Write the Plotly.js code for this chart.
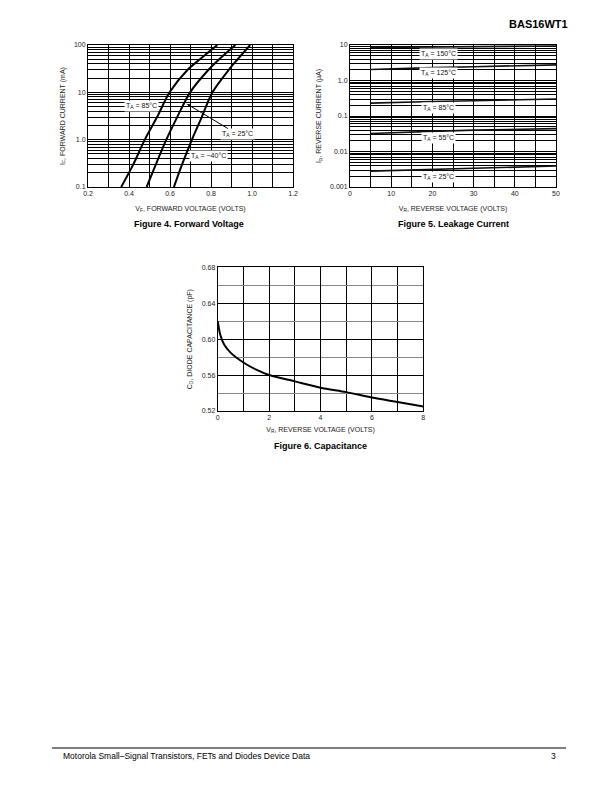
<!DOCTYPE html>
<html><head><meta charset="utf-8">
<script src="https://cdn.plot.ly/plotly-3.0.1.min.js"></script>
<style>html,body{margin:0;padding:0;background:#fff;}#chart{width:612px;height:792px;}</style>
</head><body><div id="chart"></div>
<script>
// Figure 4 – Forward voltage (V) vs forward current (mA)
const ifCurrent = [0.1, 0.3, 1, 3, 10, 30, 50, 100];
const vf85 = [0.362, 0.421, 0.477, 0.537, 0.598, 0.686, 0.746, 0.831];
const vf25 = [0.486, 0.531, 0.582, 0.635, 0.698, 0.788, 0.84, 0.919];
const vfm40 = [0.619, 0.659, 0.707, 0.755, 0.807, 0.887, 0.93, 0.991];
const fig4Labels = ["T<sub>A</sub> = 85°C", "T<sub>A</sub> = 25°C", "T<sub>A</sub> = −40°C"];

// Figure 5 – Leakage current (µA) vs reverse voltage
const vr5 = [5, 10, 20, 30, 40, 50];
const ir150 = [8.5, 8.6, 8.8, 9.0, 9.2, 9.4];
const ir125 = [2.05, 2.15, 2.3, 2.45, 2.6, 2.75];
const ir85 = [0.23, 0.24, 0.255, 0.27, 0.285, 0.3];
const ir55 = [0.032, 0.034, 0.037, 0.040, 0.042, 0.044];
const ir25 = [0.0028, 0.0029, 0.0031, 0.0034, 0.0037, 0.0039];
const fig5Labels = ["T<sub>A</sub> = 150°C", "T<sub>A</sub> = 125°C", "T<sub>A</sub> = 85°C", "T<sub>A</sub> = 55°C", "T<sub>A</sub> = 25°C"];

// Figure 6 – Capacitance (pF) vs reverse voltage
const vr6 = [0, 0.1, 0.25, 0.5, 1, 1.5, 2, 3, 4, 5, 6, 7, 8];
const cd = [0.62, 0.605, 0.594, 0.585, 0.574, 0.566, 0.56, 0.553, 0.546, 0.541, 0.535, 0.530, 0.525];

// Tick labels
const fig4YTicks = [0.1, 1, 10, 100];
const fig4YText = ["0.1", "1.0", "10", "100"];
const fig5YTicks = [0.001, 0.01, 0.1, 1, 10];
const fig5YText = ["0.001", "0.01", "0.1", "1.0", "10"];
const fig6YTicks = [0.52, 0.56, 0.60, 0.64, 0.68];
const fig6YText = ["0.52", "0.56", "0.60", "0.64", "0.68"];

function logMinor(lo, hi) {
  const v = [];
  for (let e = lo; e < hi; e++) for (let d = 2; d <= 9; d++) v.push(d * Math.pow(10, e));
  return v;
}

const FONT = "Liberation Sans, Arial, sans-serif";
const tickFont = {family: FONT, size: 7, color: "#222"};
const titleFont = {family: FONT, size: 7, color: "#222"};
const lineStyle = {color: "#000", width: 2, shape: "spline", smoothing: 0.8};

const traces = [
  {x: vf85, y: ifCurrent, xaxis: "x", yaxis: "y", mode: "lines", line: lineStyle},
  {x: vf25, y: ifCurrent, xaxis: "x", yaxis: "y", mode: "lines", line: lineStyle},
  {x: vfm40, y: ifCurrent, xaxis: "x", yaxis: "y", mode: "lines", line: lineStyle},
];
[ir150, ir125, ir85, ir55, ir25].forEach(s => traces.push({x: vr5, y: s, xaxis: "x2", yaxis: "y2", mode: "lines", line: {color: "#111", width: 1.6}}));
traces.push({x: vr6, y: cd, xaxis: "x3", yaxis: "y3", mode: "lines", line: lineStyle});

const frame = {showline: true, mirror: true, linecolor: "#000", linewidth: 1, ticks: "", zeroline: false,
  gridcolor: "#000", gridwidth: 1, tickfont: tickFont, fixedrange: true};

function yTitle(t, s) { return {text: t, font: titleFont, standoff: s}; }

const layout = {
  width: 612, height: 792, margin: {l: 0, r: 0, t: 0, b: 0},
  paper_bgcolor: "#fff", plot_bgcolor: "#fff", showlegend: false,
  xaxis: Object.assign({}, frame, {domain: [88/612, 293/612], anchor: "y", range: [0.2, 1.2],
    tickvals: [0.2, 0.4, 0.6, 0.8, 1.0, 1.2], ticktext: ["0.2", "0.4", "0.6", "0.8", "1.0", "1.2"],
    minor: {tickvals: [0.3, 0.5, 0.7, 0.9, 1.1], showgrid: true, gridcolor: "#000", gridwidth: 1},
    title: {text: "V<sub>F</sub>, FORWARD VOLTAGE (VOLTS)", font: titleFont, standoff: 9}}),
  yaxis: Object.assign({}, frame, {domain: [1 - 187/792, 1 - 45/792], anchor: "x", type: "log", range: [-1, 2],
    tickvals: fig4YTicks, ticktext: fig4YText,
    minor: {tickvals: logMinor(-1, 2), showgrid: true, gridcolor: "#000", gridwidth: 1},
    title: yTitle("I<sub>F</sub>, FORWARD CURRENT (mA)", 7)}),
  xaxis2: Object.assign({}, frame, {domain: [350/612, 556/612], anchor: "y2", range: [0, 50],
    tickvals: [0, 10, 20, 30, 40, 50],
    minor: {tickvals: [5, 15, 25, 35, 45], showgrid: true, gridcolor: "#000", gridwidth: 1},
    title: {text: "V<sub>R</sub>, REVERSE VOLTAGE (VOLTS)", font: titleFont, standoff: 9}}),
  yaxis2: Object.assign({}, frame, {domain: [1 - 187/792, 1 - 45/792], anchor: "x2", type: "log", range: [-3, 1],
    tickvals: fig5YTicks, ticktext: fig5YText,
    minor: {tickvals: logMinor(-3, 1), showgrid: true, gridcolor: "#000", gridwidth: 1},
    title: yTitle("I<sub>R</sub>, REVERSE CURRENT (µA)", 7)}),
  xaxis3: Object.assign({}, frame, {domain: [217.7/612, 423.3/612], anchor: "y3", range: [0, 8],
    tickvals: [0, 2, 4, 6, 8],
    minor: {tickvals: [1, 3, 5, 7], showgrid: true, gridcolor: "#000", gridwidth: 1},
    title: {text: "V<sub>R</sub>, REVERSE VOLTAGE (VOLTS)", font: titleFont, standoff: 6}}),
  yaxis3: Object.assign({}, frame, {domain: [1 - 411/792, 1 - 267.3/792], anchor: "x3", range: [0.52, 0.68],
    tickvals: fig6YTicks, ticktext: fig6YText,
    minor: {tickvals: [0.54, 0.58, 0.62, 0.66], showgrid: true, gridcolor: "#888", gridwidth: 1},
    title: yTitle("C<sub>D</sub>, DIODE CAPACITANCE (pF)", 8)}),
  shapes: [
    {type: "line", xref: "paper", yref: "paper", x0: 52/612, x1: 566/612, y0: 1 - 748/792, y1: 1 - 748/792,
     line: {color: "#000", width: 1}}
  ],
  annotations: []
};

const lab = (xa, ya, x, y, t, extra) => Object.assign({xref: xa, yref: ya, x: x, y: y, text: t, showarrow: false,
  font: {family: FONT, size: 7, color: "#111"}, bgcolor: "#fff", borderpad: 1}, extra || {});

// Figure 4 labels (log axis: y given as log10)
layout.annotations.push(lab("x", "y", 0.459, 0.711, fig4Labels[0]));
layout.annotations.push(lab("x", "y", 0.683, 0.753, fig4Labels[1], {showarrow: true, arrowhead: 2, arrowsize: 0.6,
  arrowwidth: 1, arrowcolor: "#000", ax: 50, ay: 30, standoff: 0}));
layout.annotations.push(lab("x", "y", 0.79, -0.345, fig4Labels[2]));
// Figure 5 labels
const fig5LabelY = [0.746, 0.211, -0.775, -1.62, -2.72];
fig5Labels.forEach((t, i) => layout.annotations.push(lab("x2", "y2", 21.4, fig5LabelY[i], t)));

// Captions, header, footer
const paperText = (x, y, t, size, bold, xanchor) => ({xref: "paper", yref: "paper", x: x/612, y: 1 - y/792,
  text: bold ? "<b>" + t + "</b>" : t, showarrow: false, xanchor: xanchor || "center", yanchor: "middle",
  font: {family: FONT, size: size, color: "#000"}});
layout.annotations.push(paperText(189, 224, "Figure 4. Forward Voltage", 9, true));
layout.annotations.push(paperText(453, 224, "Figure 5. Leakage Current", 9, true));
layout.annotations.push(paperText(320, 446, "Figure 6. Capacitance", 9, true));
layout.annotations.push(paperText(570, 24, "BAS16WT1", 11, true, "right"));
layout.annotations.push(paperText(61, 756, "Motorola Small–Signal Transistors, FETs and Diodes Device Data", 8.5, false, "left"));
layout.annotations.push(paperText(558, 756, "3", 8.5, false, "right"));

Plotly.newPlot("chart", traces, layout, {staticPlot: true, displayModeBar: false});
</script></body></html>
